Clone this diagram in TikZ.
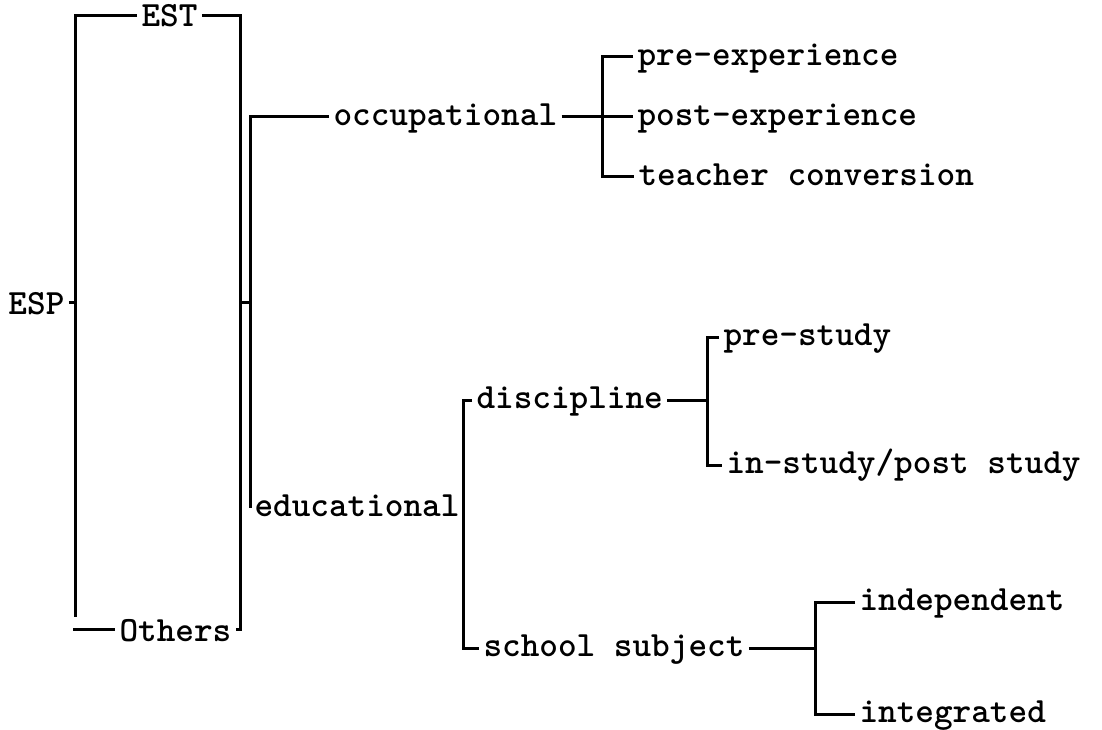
\documentclass[tikz,border=0pt]{standalone}
\newcommand*{\barwidth}{3pt}

\begin{document}
\begin{tikzpicture}[x=1pt, y=-1pt, line width=\barwidth,
    word/.style={font=\ttfamily\bfseries\fontsize{35.5}{40}\selectfont, anchor=west, inner xsep=3pt, inner ysep=0pt, text height=17pt, text depth=0pt},
    capword/.style={word, text height=24pt}]
    \useasboundingbox (0,0) rectangle (1102,730);
    % first level
    \node[capword] (esp) at (4,302) {ESP};
    \node[capword, text height=22pt] (est) at (137,16) {EST};
    \node[capword] (others) at (115,629) {Others};
    \coordinate (esptick) at (75,302);
    \coordinate (lbarbot) at (75,617);
    \coordinate (lbarend) at (73,629);
    \coordinate (rbarmid) at (240,302);
    \coordinate (mbarmid) at (250,302);
    % ESP bracket
    \draw (esp.east) -- (esptick);
    \draw (est.west) -| (lbarbot);
    \draw (lbarend) -- (others.west);
    % EST / Others bracket
    \draw (est.east) -| (rbarmid) |- (others.east);
    \draw (rbarmid) -- (mbarmid);
    % second level
    \node[word] (occ) at (329,117) {occupational};
    \node[word] (edu) at (250,508) {educational};
    \draw (occ.west) -| (mbarmid) |- (edu.west);
    % occupational
    \node[word] (preexp) at (633,57) {pre-experience};
    \node[word] (postexp) at (633,117) {post-experience};
    \node[word] (teach) at (634,177) {teacher conversion};
    \coordinate (obar) at (602,117);
    \draw (occ.east) -- (postexp.west);
    \draw (preexp.west) -| (obar) |- (teach.west);
    % educational
    \node[word] (disc) at (472,400) {discipline};
    \node[word] (school) at (479,648) {school subject};
    \coordinate (ebar) at (463,508);
    \draw (edu.east) -- (ebar);
    \draw (disc.west) -| (ebar) |- (school.west);
    % discipline
    \node[word] (prestudy) at (719,337) {pre-study};
    \node[word] (instudy) at (722,465) {in-study/post study};
    \coordinate (dbar) at (707,400);
    \draw (disc.east) -- (dbar);
    \draw (prestudy.west) -| (dbar) |- (instudy.west);
    % school subject
    \node[word] (indep) at (855,602) {independent};
    \node[word] (integ) at (855,714) {integrated};
    \coordinate (sbar) at (815,648);
    \draw (school.east) -- (sbar);
    \draw (indep.west) -| (sbar) |- (integ.west);
\end{tikzpicture}
\end{document}
